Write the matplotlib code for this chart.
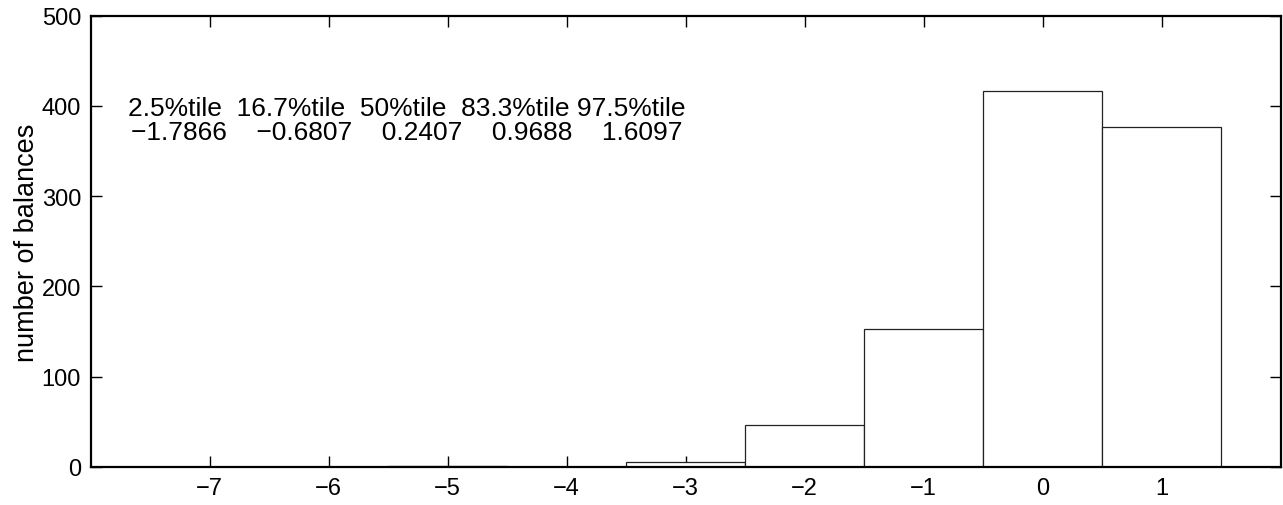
import matplotlib
matplotlib.use("Agg")
import matplotlib.pyplot as plt

plt.rcParams['font.family'] = ['Liberation Sans', 'DejaVu Sans']

# histogram bins (centres) and counts
bin_centers = [-7, -6, -5, -4, -3, -2, -1, 0, 1]
counts = [0, 0, 1, 0, 5, 46, 153, 417, 377]

# percentile summary
pct_names = ['2.5%tile', '16.7%tile', '50%tile', '83.3%tile', '97.5%tile']
pct_values = [-1.7866, -0.6807, 0.2407, 0.9688, 1.6097]

fig = plt.figure(figsize=(12.83, 5.06), dpi=100)
ax = fig.add_axes([0.0707, 0.0751, 0.9275, 0.8919])

ax.bar(bin_centers, counts, width=1.0, color='white', edgecolor='#222222',
       linewidth=0.9, zorder=2)

ax.set_xlim(-8, 2)
ax.set_ylim(0, 500)
ax.set_xticks(bin_centers)
ax.set_yticks([0, 100, 200, 300, 400, 500])
ax.tick_params(direction='in', length=8, width=1.0, top=True, right=True,
               labelsize=17, pad=7)
for s in ax.spines.values():
    s.set_linewidth(1.6)
ax.set_ylabel('number of balances', fontsize=19.5, labelpad=1)

line1 = '  '.join(pct_names[:4]) + ' ' + pct_names[4]
line2 = '    '.join('{:.4f}'.format(v).replace('-', '\u2212') for v in pct_values)
ax.text(-5.34, 398, line1, ha='center', va='center', fontsize=19)
ax.text(-5.34, 371, line2, ha='center', va='center', fontsize=19)

fig.savefig('out.png', dpi=100)
